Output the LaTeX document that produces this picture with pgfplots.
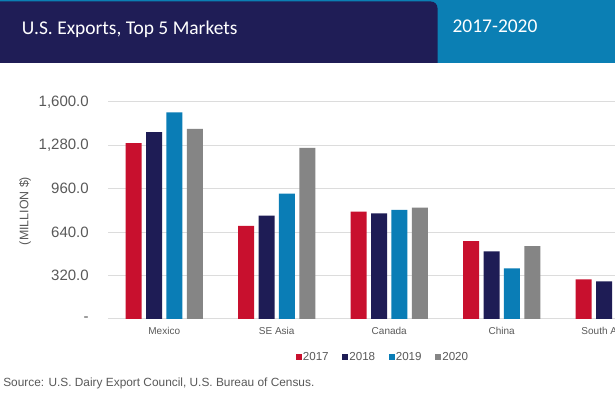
\documentclass[border=0pt]{standalone}
\usepackage{pgfplots}
\pgfplotsset{compat=1.18}
\usepackage{fontspec}
\setmainfont{Liberation Sans}
\newfontfamily\carlito{Carlito}
\definecolor{cRed}{HTML}{C8102E}
\definecolor{cNavy}{HTML}{1E1C55}
\definecolor{cTeal}{HTML}{0A7DB6}
\definecolor{cGray}{HTML}{858585}
\definecolor{cHdrTeal}{HTML}{0B7FB4}
\definecolor{cHdrNavy}{HTML}{1F1D56}
\definecolor{cGrid}{HTML}{DCDCDC}
\definecolor{cText}{HTML}{595959}
\begin{document}
\begin{tikzpicture}
\begin{scope}[x=0.75pt,y=0.75pt]
\useasboundingbox (0,0) rectangle (615,396);
\clip (0,0) rectangle (615,396);
\fill[white] (0,0) rectangle (615,396);
% header band
\fill[cHdrTeal] (0,333) rectangle (615,396);
\fill[cHdrNavy] (0,333) -- (0,394.5) [rounded corners=5pt]-- (437.5,394.5) [sharp corners]-- (437.5,333) -- cycle;
\node[anchor=base west, text=white, inner sep=0pt, font=\carlito\fontsize{14.6}{17}\selectfont] at (21.7,361) {U.S. Exports, Top 5 Markets};
\node[anchor=base west, text=white, inner sep=0pt, font=\carlito\fontsize{14.6}{17}\selectfont] at (452.3,363.5) {2017-2020};
\node[rotate=90, font=\fontsize{9.3}{11}\selectfont, text=cText, inner sep=0pt] at (25,185) {(MILLION \$)};
\node[anchor=west, font=\fontsize{8.9}{10}\selectfont, text=cText, inner sep=0pt] at (3,13) {Source: U.S. Dairy Export Council, U.S. Bureau of Census.};
\begin{axis}[
  at={(81pt,57.75pt)}, anchor=south west, scale only axis,
  width=421.875pt, height=162.75pt,
  ymin=0, ymax=1600, xmin=-0.5, xmax=4.5,
  ybar=3.3pt, bar width=12pt,
  ytick={0,320,640,960,1280,1600},
  yticklabels={{-\hspace{5.25pt}},320.0,640.0,960.0,{1,280.0},{1,600.0}},
  xtick={0,1,2,3,4},
  xticklabels={Mexico,SE Asia,Canada,China,South America},
  axis line style={draw=none}, major tick length=0pt,
  ymajorgrids, grid style={draw=cGrid, line width=0.75pt},
  tick label style={text=cText},
  yticklabel style={font=\fontsize{11.25}{13}\selectfont, inner sep=0pt, anchor=east, xshift=-14.25pt},
  xticklabel style={font=\fontsize{7.5}{9}\selectfont, inner sep=0pt, anchor=center, yshift=-9pt},
  legend columns=4,
  legend style={at={(0.488,-0.175)}, anchor=center, draw=none, fill=none,
    font=\fontsize{8.7}{10}\selectfont, text=cText, inner sep=0pt,
    nodes={inner sep=1pt},
    /tikz/every even column/.append style={column sep=9pt}},
  legend image code/.code={\fill[#1,draw=none] (0pt,-2.25pt) rectangle (4.5pt,2.25pt);},
]
\addplot[fill=cRed, draw=none] coordinates {(0,1296) (1,686) (2,791) (3,575) (4,293)};
\addplot[fill=cNavy, draw=none] coordinates {(0,1377) (1,762) (2,779) (3,499) (4,278)};
\addplot[fill=cTeal, draw=none] coordinates {(0,1524) (1,924) (2,804) (3,374)};
\addplot[fill=cGray, draw=none] coordinates {(0,1401) (1,1261) (2,821) (3,538)};
\legend{2017,2018,2019,2020}
\end{axis}
\end{scope}
\end{tikzpicture}
\end{document}
